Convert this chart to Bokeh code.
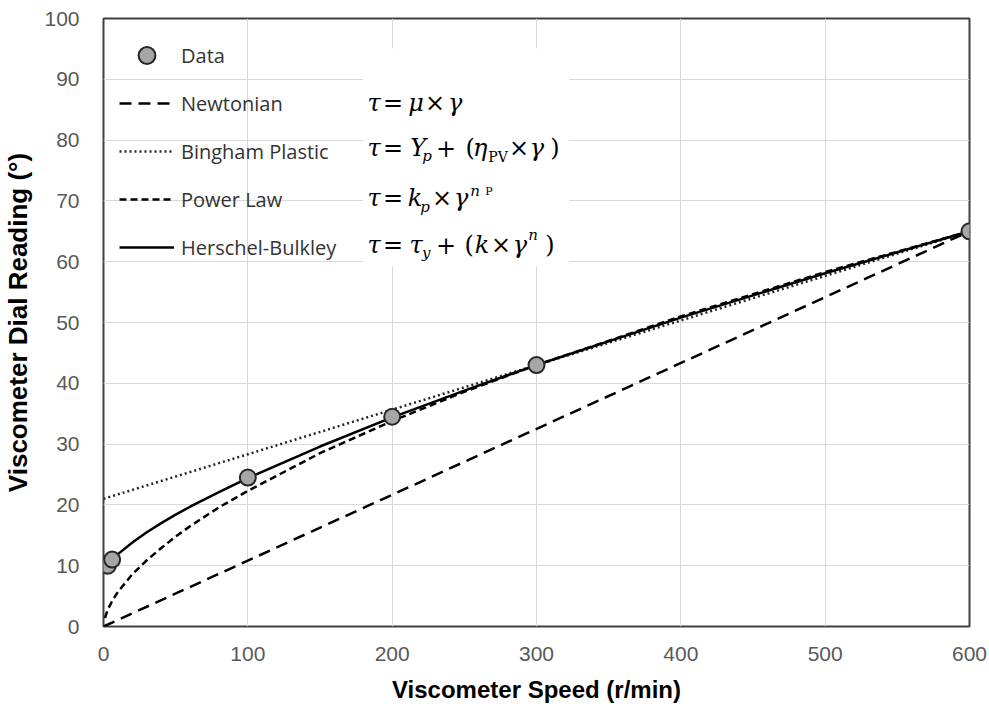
from bokeh.plotting import figure
from bokeh.models import Range1d, FixedTicker, Legend, LegendItem, BoxAnnotation, ColumnDataSource
from bokeh.core.properties import value
from bokeh.embed import file_html
from bokeh.resources import INLINE

# ---------------- data ----------------
speed = [3, 6, 100, 200, 300, 600]
dial = [10, 11, 24.5, 34.5, 43, 65]

newt_x = [0, 600]
newt_y = [0, 65]

bing_x = [0, 600]
bing_y = [21, 65]

pl_x = [1, 3, 6, 10, 20, 30, 40, 50, 60, 80, 100, 150, 200, 250, 300, 400, 500, 600]
pl_y = [1.4, 2.8, 4.2, 5.7, 8.6, 10.9, 12.9, 14.8, 16.5, 19.6, 22.3, 28.5, 33.8, 38.6, 43.0, 51.0, 58.3, 65.0]

hb_x = [3, 6, 10, 20, 30, 40, 50, 60, 80, 100, 150, 200, 250, 300, 400, 500, 600]
hb_y = [10.2, 11.0, 11.9, 13.8, 15.5, 17.0, 18.4, 19.7, 22.1, 24.4, 29.6, 34.4, 38.8, 43.0, 50.8, 58.1, 65.0]

x_ticks = [0, 100, 200, 300, 400, 500, 600]
y_ticks = [0, 10, 20, 30, 40, 50, 60, 70, 80, 90, 100]

series_labels = ["Data", "Newtonian", "Bingham Plastic", "Power Law", "Herschel-Bulkley"]

# ---------------- layout ----------------
W, H = 989, 709
FL, FR, FT, FB = 102, 969, 18, 626   # frame edges in px
X_MAX, Y_MAX = 600, 100


def dx(px):
    return (px - FL) / ((FR - FL) / X_MAX)


def dy(py):
    return (FB - py) / ((FB - FT) / Y_MAX)


p = figure(width=W, height=H, output_backend="svg", toolbar_location=None,
           x_range=Range1d(0, X_MAX), y_range=Range1d(0, Y_MAX),
           min_border_left=FL, min_border_right=W - FR,
           min_border_top=FT, min_border_bottom=H - FB)
p.background_fill_color = "white"
p.border_fill_color = "white"
p.outline_line_color = "#404040"
p.outline_line_width = 2

for ax in (p.xaxis[0], p.yaxis[0]):
    ax.axis_line_color = None
    ax.major_tick_line_color = None
    ax.minor_tick_line_color = None
    ax.major_tick_in = 0
    ax.major_tick_out = 0
    ax.major_label_text_font = "Liberation Sans"
    ax.major_label_text_font_size = "21px"
    ax.major_label_text_color = "#595959"
    ax.axis_label_text_font = "Liberation Sans"
    ax.axis_label_text_font_style = "bold"
    ax.axis_label_text_color = "#000000"

p.xaxis.ticker = FixedTicker(ticks=x_ticks)
p.yaxis.ticker = FixedTicker(ticks=y_ticks)
p.xaxis.major_label_standoff = 20
p.yaxis.major_label_standoff = 24
p.xaxis.axis_label = "Viscometer Speed (r/min)"
p.yaxis.axis_label = "Viscometer Dial Reading (°)"
p.xaxis.axis_label_text_font_size = "24px"
p.yaxis.axis_label_text_font_size = "26px"
p.xaxis.axis_label_standoff = 12
p.yaxis.axis_label_standoff = 8

p.xgrid.grid_line_color = "#d9d9d9"
p.ygrid.grid_line_color = "#d9d9d9"
p.xgrid.grid_line_width = 1
p.ygrid.grid_line_width = 1

# white box behind the equations (covers gridlines)
p.add_layout(BoxAnnotation(left=dx(362), right=dx(568), top=dy(48), bottom=dy(266),
                           fill_color="white", fill_alpha=1, line_color=None,
                           level="underlay"))

# ---------------- series ----------------
r_newt = p.line(newt_x, newt_y, line_color="black", line_width=2.5, line_dash="12 7")
r_bing = p.line(bing_x, bing_y, line_color="#262626", line_width=2.5, line_dash="2 3")
r_pl = p.line(pl_x, pl_y, line_color="black", line_width=2.5, line_dash="7 4")
r_hb = p.line(hb_x, hb_y, line_color="black", line_width=2.5)
r_pts = p.scatter(speed, dial, size=16, fill_color="#a6a6a6", line_color="#262626", line_width=2)

legend = Legend(items=[
    LegendItem(label=series_labels[0], renderers=[r_pts]),
    LegendItem(label=series_labels[1], renderers=[r_newt]),
    LegendItem(label=series_labels[2], renderers=[r_bing]),
    LegendItem(label=series_labels[3], renderers=[r_pl]),
    LegendItem(label=series_labels[4], renderers=[r_hb]),
], location="top_left")
legend.margin = 0
legend.padding = 16
legend.glyph_width = 55
legend.glyph_height = 42
legend.label_height = 42
legend.spacing = 6
legend.label_standoff = 7
legend.label_text_font = "Open Sans"
legend.label_text_font_size = "20px"
legend.label_text_color = "#333333"
legend.background_fill_alpha = 0
legend.border_line_alpha = 0
p.add_layout(legend)

# ---------------- equations (text pieces centred like the reference) ----------------
R1, R2, R3, R4 = 102.5, 147.5, 197, 244

main_italic = [  # (text, centre x px, centre y px)
    ("τ", 373, R1), ("μ", 415, R1), ("γ", 454, R1),
    ("τ", 373, R2), ("Y", 417, R2), ("η", 479, R2), ("γ", 536, R2),
    ("τ", 373, R3), ("k", 414, R3), ("γ", 460, R3),
    ("τ", 373, R4), ("τ", 415, R4), ("k", 481, R4), ("γ", 519, R4),
]
main_upright = [
    ("=", 392, R1), ("×", 434, R1),
    ("=", 392, R2), ("+", 445, R2), ("(", 469, R2), ("×", 518, R2), (")", 554, R2),
    ("=", 392, R3), ("×", 441, R3),
    ("=", 392, R4), ("+", 445, R4), ("(", 468, R4), ("×", 500, R4), (")", 549, R4),
]
small_italic = [
    ("p", 426, R2 + 8), ("p", 424, R3 + 9), ("y", 425, R4 + 8),
    ("n", 474, R3 - 7), ("n", 532, R4 - 10),
]
small_upright = [("PV", 497, R2 + 9)]
tiny_upright = [("P", 488, R3 - 6)]


def put(items, size, style):
    src = ColumnDataSource(dict(x=[dx(a[1]) for a in items], y=[dy(a[2]) for a in items],
                                t=[a[0] for a in items]))
    p.text(x="x", y="y", text="t", source=src, text_font=value("DejaVu Serif"),
           text_font_size=size, text_font_style=style, text_color="#000000",
           text_align="center", text_baseline="middle")


put(main_italic, "24px", "italic")
put(main_upright, "24px", "normal")
put(small_italic, "15px", "italic")
put(small_upright, "14px", "normal")
put(tiny_upright, "11px", "normal")

open("out.html", "w").write(file_html(p, INLINE))
